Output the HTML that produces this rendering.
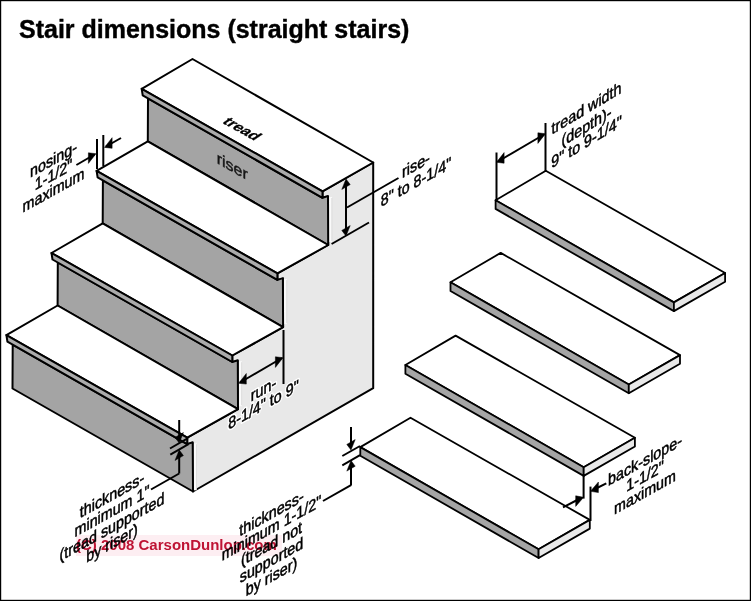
<!DOCTYPE html>
<html><head><meta charset="utf-8"><style>
html,body{margin:0;padding:0;background:#fff;}
body{width:751px;height:601px;overflow:hidden;position:relative;}
svg{position:absolute;left:0;top:0;}
text{font-family:"Liberation Sans",sans-serif;}
</style></head><body>
<svg width="751" height="601" viewBox="0 0 751 601">
<rect x="0.6" y="0.6" width="749.8" height="599.8" fill="#fff" stroke="#000" stroke-width="1.2"/>
<text x="19" y="38" font-size="25" font-weight="bold" fill="#000" stroke="#000" stroke-width="0.4">Stair dimensions (straight stairs)</text>
<polygon points="373.2,162.5 373.2,388.2 193.0,491.5 192.7,443.3 187.2,444.1 187.2,437.6 238.0,409.2 237.8,361.2 232.3,362.0 232.3,355.5 283.1,327.1 282.9,279.1 277.4,279.9 277.4,273.4 328.2,245.0 328.0,197.0 322.5,197.8 322.5,191.3" fill="#e8e8e8" stroke="#000" stroke-width="2.0" stroke-linejoin="round" />
<rect x="328.8" y="197.0" width="3.2" height="45.0" fill="#fafafa"/>
<line x1="331.8" y1="198.0" x2="331.8" y2="241.0" stroke="#d2d2d2" stroke-width="0.7" stroke-linecap="butt"/>
<rect x="283.7" y="279.1" width="3.2" height="45.0" fill="#fafafa"/>
<line x1="286.7" y1="280.1" x2="286.7" y2="323.1" stroke="#d2d2d2" stroke-width="0.7" stroke-linecap="butt"/>
<rect x="238.6" y="361.2" width="3.2" height="45.0" fill="#fafafa"/>
<line x1="241.6" y1="362.2" x2="241.6" y2="405.2" stroke="#d2d2d2" stroke-width="0.7" stroke-linecap="butt"/>
<rect x="193.5" y="443.3" width="3.2" height="47.0" fill="#fafafa"/>
<line x1="196.5" y1="444.3" x2="196.5" y2="489.3" stroke="#d2d2d2" stroke-width="0.7" stroke-linecap="butt"/>
<polygon points="192.5,59.0 141.7,88.8 322.5,191.3 373.2,162.5" fill="#fff" stroke="#000" stroke-width="2.0" stroke-linejoin="round" />
<polygon points="148.0,98.3 322.5,197.8 328.0,196.0 328.2,245.0 147.8,141.3" fill="#a4a4a4" stroke="#000" stroke-width="2.0" stroke-linejoin="round" />
<polygon points="141.7,88.8 322.5,191.3 322.5,197.8 142.7,95.3" fill="#ababab" stroke="#000" stroke-width="2.0" stroke-linejoin="round" />
<polygon points="147.8,141.3 96.6,170.9 277.4,273.4 328.2,245.0" fill="#fff" stroke="#000" stroke-width="2.0" stroke-linejoin="round" />
<polygon points="102.9,180.4 277.4,279.9 282.9,278.1 283.1,327.1 102.7,223.4" fill="#a4a4a4" stroke="#000" stroke-width="2.0" stroke-linejoin="round" />
<polygon points="96.6,170.9 277.4,273.4 277.4,279.9 97.6,177.4" fill="#ababab" stroke="#000" stroke-width="2.0" stroke-linejoin="round" />
<polygon points="102.7,223.4 51.5,253.0 232.3,355.5 283.1,327.1" fill="#fff" stroke="#000" stroke-width="2.0" stroke-linejoin="round" />
<polygon points="57.8,262.5 232.3,362.0 237.8,360.2 238.0,409.2 57.6,305.5" fill="#a4a4a4" stroke="#000" stroke-width="2.0" stroke-linejoin="round" />
<polygon points="51.5,253.0 232.3,355.5 232.3,362.0 52.5,259.5" fill="#ababab" stroke="#000" stroke-width="2.0" stroke-linejoin="round" />
<polygon points="57.6,305.5 6.4,335.1 187.2,437.6 238.0,409.2" fill="#fff" stroke="#000" stroke-width="2.0" stroke-linejoin="round" />
<polygon points="12.7,344.6 187.2,444.1 192.7,442.3 193.0,491.5 12.5,388.5" fill="#a4a4a4" stroke="#000" stroke-width="2.0" stroke-linejoin="round" />
<polygon points="6.4,335.1 187.2,437.6 187.2,444.1 7.4,341.6" fill="#ababab" stroke="#000" stroke-width="2.0" stroke-linejoin="round" />
<polygon points="545.8,170.8 495.6,200.2 673.9,302.4 725.1,273.0" fill="#fff" stroke="#000" stroke-width="1.8" stroke-linejoin="round" />
<polygon points="495.6,200.2 673.9,302.4 673.9,311.1 495.6,208.9" fill="#a5a5a5" stroke="#000" stroke-width="1.8" stroke-linejoin="round" />
<polygon points="673.9,302.4 725.1,273.0 725.1,281.7 673.9,311.1" fill="#e9e9e9" stroke="#000" stroke-width="1.8" stroke-linejoin="round" />
<polygon points="500.7,252.9 450.5,282.3 628.8,384.5 680.0,355.1" fill="#fff" stroke="#000" stroke-width="1.8" stroke-linejoin="round" />
<polygon points="450.5,282.3 628.8,384.5 628.8,393.2 450.5,291.0" fill="#a5a5a5" stroke="#000" stroke-width="1.8" stroke-linejoin="round" />
<polygon points="628.8,384.5 680.0,355.1 680.0,363.8 628.8,393.2" fill="#e9e9e9" stroke="#000" stroke-width="1.8" stroke-linejoin="round" />
<polygon points="455.6,335.6 405.4,365.0 583.7,467.2 634.9,437.8" fill="#fff" stroke="#000" stroke-width="1.8" stroke-linejoin="round" />
<polygon points="405.4,365.0 583.7,467.2 583.7,475.9 405.4,373.7" fill="#a5a5a5" stroke="#000" stroke-width="1.8" stroke-linejoin="round" />
<polygon points="583.7,467.2 634.9,437.8 634.9,446.5 583.7,475.9" fill="#e9e9e9" stroke="#000" stroke-width="1.8" stroke-linejoin="round" />
<polygon points="410.5,417.7 360.3,447.1 538.6,549.3 589.8,519.9" fill="#fff" stroke="#000" stroke-width="1.8" stroke-linejoin="round" />
<polygon points="360.3,447.1 538.6,549.3 538.6,558.0 360.3,455.8" fill="#a5a5a5" stroke="#000" stroke-width="1.8" stroke-linejoin="round" />
<polygon points="538.6,549.3 589.8,519.9 589.8,528.6 538.6,558.0" fill="#e9e9e9" stroke="#000" stroke-width="1.8" stroke-linejoin="round" />
<line x1="97.0" y1="139.0" x2="97.0" y2="169.0" stroke="#000" stroke-width="2.0" stroke-linecap="butt"/>
<line x1="103.3" y1="135.0" x2="103.3" y2="166.0" stroke="#000" stroke-width="2.0" stroke-linecap="butt"/>
<line x1="76.4" y1="165.0" x2="94.5" y2="154.5" stroke="#000" stroke-width="2.0" stroke-linecap="butt"/><polygon points="96.0,153.7 88.4,163.4 88.4,152.8" fill="#000" stroke="#000" stroke-width="0.5" stroke-linejoin="miter"/>
<line x1="121.0" y1="138.0" x2="106.0" y2="146.5" stroke="#000" stroke-width="2.0" stroke-linecap="butt"/><polygon points="104.5,147.4 112.1,148.3 112.1,137.7" fill="#000" stroke="#000" stroke-width="0.5" stroke-linejoin="miter"/>
<line x1="346.0" y1="181.0" x2="346.0" y2="234.0" stroke="#000" stroke-width="2.0" stroke-linecap="butt"/><polygon points="346.0,179.0 350.2,184.6 341.8,189.4" fill="#000" stroke="#000" stroke-width="0.5" stroke-linejoin="miter"/><polygon points="346.0,236.0 350.2,225.6 341.8,230.4" fill="#000" stroke="#000" stroke-width="0.5" stroke-linejoin="miter"/>
<line x1="331.6" y1="244.0" x2="369.0" y2="222.5" stroke="#000" stroke-width="2.0" stroke-linecap="butt"/>
<line x1="347.0" y1="207.5" x2="398.5" y2="178.0" stroke="#000" stroke-width="2.0" stroke-linecap="butt"/>
<line x1="283.5" y1="330.0" x2="283.5" y2="384.0" stroke="#000" stroke-width="2.0" stroke-linecap="butt"/>
<line x1="240.0" y1="382.5" x2="282.0" y2="358.0" stroke="#000" stroke-width="2.0" stroke-linecap="butt"/><polygon points="238.7,383.2 246.3,384.1 246.3,373.5" fill="#000" stroke="#000" stroke-width="0.5" stroke-linejoin="miter"/><polygon points="283.0,357.7 275.4,367.4 275.4,356.8" fill="#000" stroke="#000" stroke-width="0.5" stroke-linejoin="miter"/>
<line x1="179.2" y1="420.0" x2="179.2" y2="440.0" stroke="#000" stroke-width="2.0" stroke-linecap="butt"/><polygon points="179.2,443.0 183.4,432.6 175.0,437.4" fill="#000" stroke="#000" stroke-width="0.5" stroke-linejoin="miter"/>
<line x1="170.0" y1="448.5" x2="188.0" y2="438.2" stroke="#000" stroke-width="2.0" stroke-linecap="butt"/>
<line x1="170.3" y1="454.6" x2="188.5" y2="444.2" stroke="#000" stroke-width="2.0" stroke-linecap="butt"/>
<line x1="179.2" y1="452.0" x2="179.2" y2="473.5" stroke="#000" stroke-width="2.0" stroke-linecap="butt"/><polygon points="179.2,450.0 183.4,455.6 175.0,460.4" fill="#000" stroke="#000" stroke-width="0.5" stroke-linejoin="miter"/>
<line x1="179.2" y1="473.5" x2="151.0" y2="489.5" stroke="#000" stroke-width="2.0" stroke-linecap="butt"/>
<line x1="496.5" y1="152.5" x2="496.5" y2="200.0" stroke="#000" stroke-width="2.0" stroke-linecap="butt"/>
<line x1="545.5" y1="123.0" x2="545.5" y2="171.0" stroke="#000" stroke-width="2.0" stroke-linecap="butt"/>
<line x1="498.0" y1="161.5" x2="544.0" y2="134.5" stroke="#000" stroke-width="2.0" stroke-linecap="butt"/><polygon points="496.5,162.3 504.1,163.2 504.1,152.6" fill="#000" stroke="#000" stroke-width="0.5" stroke-linejoin="miter"/><polygon points="545.5,133.7 537.9,143.4 537.9,132.8" fill="#000" stroke="#000" stroke-width="0.5" stroke-linejoin="miter"/>
<line x1="351.0" y1="427.0" x2="351.0" y2="447.0" stroke="#000" stroke-width="2.0" stroke-linecap="butt"/><polygon points="351.0,450.0 355.2,439.6 346.8,444.4" fill="#000" stroke="#000" stroke-width="0.5" stroke-linejoin="miter"/>
<line x1="342.3" y1="456.0" x2="360.0" y2="446.0" stroke="#000" stroke-width="2.0" stroke-linecap="butt"/>
<line x1="342.3" y1="465.3" x2="360.0" y2="455.2" stroke="#000" stroke-width="2.0" stroke-linecap="butt"/>
<line x1="351.0" y1="463.0" x2="351.0" y2="485.5" stroke="#000" stroke-width="2.0" stroke-linecap="butt"/><polygon points="351.0,460.6 355.2,466.2 346.8,471.1" fill="#000" stroke="#000" stroke-width="0.5" stroke-linejoin="miter"/>
<polyline points="351.0,485.2 323.0,501.0" fill="none" stroke="#000" stroke-width="2.0" stroke-linejoin="miter"/>
<line x1="583.6" y1="475.3" x2="583.6" y2="498.6" stroke="#000" stroke-width="2.0" stroke-linecap="butt"/>
<line x1="590.5" y1="486.6" x2="590.5" y2="521.0" stroke="#000" stroke-width="2.0" stroke-linecap="butt"/>
<line x1="563.0" y1="507.3" x2="581.0" y2="498.0" stroke="#000" stroke-width="2.0" stroke-linecap="butt"/><polygon points="583.6,497.3 575.7,506.4 575.7,495.8" fill="#000" stroke="#000" stroke-width="0.5" stroke-linejoin="miter"/>
<line x1="606.3" y1="483.3" x2="593.0" y2="490.0" stroke="#000" stroke-width="2.0" stroke-linecap="butt"/><polygon points="590.5,491.3 598.4,492.6 598.4,482.0" fill="#000" stroke="#000" stroke-width="0.5" stroke-linejoin="miter"/>
<text transform="matrix(0.866 -0.48 0.0 1 53.5 164.8)" text-anchor="middle" font-size="16.5" font-weight="normal" fill="#000" stroke="#000" stroke-width="0.5">nosing-</text>
<text transform="matrix(0.866 -0.48 0.0 1 53.5 180.2)" text-anchor="middle" font-size="16.5" font-weight="normal" fill="#000" stroke="#000" stroke-width="0.5">1-1/2&quot;</text>
<text transform="matrix(0.866 -0.48 0.0 1 53.5 195.6)" text-anchor="middle" font-size="16.5" font-weight="normal" fill="#000" stroke="#000" stroke-width="0.5">maximum</text>
<text transform="matrix(0.866 -0.48 0.0 1 416.0 170.5)" text-anchor="middle" font-size="16.5" font-weight="normal" fill="#fff" stroke="#fff" stroke-width="3.5" stroke-linejoin="round">rise-</text>
<text transform="matrix(0.866 -0.48 0.0 1 416.0 170.5)" text-anchor="middle" font-size="16.5" font-weight="normal" fill="#000" stroke="#000" stroke-width="0.5">rise-</text>
<text transform="matrix(0.866 -0.48 0.0 1 416.0 187.5)" text-anchor="middle" font-size="16.5" font-weight="normal" fill="#fff" stroke="#fff" stroke-width="3.5" stroke-linejoin="round">8&quot; to 8-1/4&quot;</text>
<text transform="matrix(0.866 -0.48 0.0 1 416.0 187.5)" text-anchor="middle" font-size="16.5" font-weight="normal" fill="#000" stroke="#000" stroke-width="0.5">8&quot; to 8-1/4&quot;</text>
<text transform="matrix(0.866 -0.48 0.0 1 263.5 394.6)" text-anchor="middle" font-size="16.5" font-weight="normal" fill="#fff" stroke="#fff" stroke-width="3.5" stroke-linejoin="round">run-</text>
<text transform="matrix(0.866 -0.48 0.0 1 263.5 394.6)" text-anchor="middle" font-size="16.5" font-weight="normal" fill="#000" stroke="#000" stroke-width="0.5">run-</text>
<text transform="matrix(0.866 -0.48 0.0 1 263.5 410.1)" text-anchor="middle" font-size="16.5" font-weight="normal" fill="#fff" stroke="#fff" stroke-width="3.5" stroke-linejoin="round">8-1/4&quot; to 9&quot;</text>
<text transform="matrix(0.866 -0.48 0.0 1 263.5 410.1)" text-anchor="middle" font-size="16.5" font-weight="normal" fill="#000" stroke="#000" stroke-width="0.5">8-1/4&quot; to 9&quot;</text>
<text transform="matrix(0.866 -0.52 0.0 1 586.5 113.8)" text-anchor="middle" font-size="16.5" font-weight="normal" fill="#000" stroke="#000" stroke-width="0.5">tread width</text>
<text transform="matrix(0.866 -0.52 0.0 1 586.5 131.8)" text-anchor="middle" font-size="16.5" font-weight="normal" fill="#000" stroke="#000" stroke-width="0.5">(depth)-</text>
<text transform="matrix(0.866 -0.52 0.0 1 586.5 147.3)" text-anchor="middle" font-size="16.5" font-weight="normal" fill="#000" stroke="#000" stroke-width="0.5">9&quot; to 9-1/4&quot;</text>
<text transform="matrix(0.866 -0.48 0.0 1 112.0 500.5)" text-anchor="middle" font-size="16.5" font-weight="normal" fill="#000" stroke="#000" stroke-width="0.5">thickness-</text>
<text transform="matrix(0.866 -0.48 0.0 1 112.0 516.5)" text-anchor="middle" font-size="16.5" font-weight="normal" fill="#000" stroke="#000" stroke-width="0.5">minimum 1&quot;</text>
<text transform="matrix(0.866 -0.48 0.0 1 112.0 532.5)" text-anchor="middle" font-size="16.5" font-weight="normal" fill="#000" stroke="#000" stroke-width="0.5">(tread supported</text>
<text transform="matrix(0.866 -0.48 0.0 1 112.0 548.5)" text-anchor="middle" font-size="16.5" font-weight="normal" fill="#000" stroke="#000" stroke-width="0.5">by riser)</text>
<text transform="matrix(0.866 -0.48 0.0 1 271.5 518.7)" text-anchor="middle" font-size="16.5" font-weight="normal" fill="#000" stroke="#000" stroke-width="0.5">thickness-</text>
<text transform="matrix(0.866 -0.48 0.0 1 271.5 533.5)" text-anchor="middle" font-size="16.5" font-weight="normal" fill="#000" stroke="#000" stroke-width="0.5">minimum 1-1/2&quot;</text>
<text transform="matrix(0.866 -0.48 0.0 1 271.5 549.3)" text-anchor="middle" font-size="16.5" font-weight="normal" fill="#000" stroke="#000" stroke-width="0.5">(tread not</text>
<text transform="matrix(0.866 -0.48 0.0 1 271.5 565.6)" text-anchor="middle" font-size="16.5" font-weight="normal" fill="#000" stroke="#000" stroke-width="0.5">supported</text>
<text transform="matrix(0.866 -0.48 0.0 1 271.5 581.9)" text-anchor="middle" font-size="16.5" font-weight="normal" fill="#000" stroke="#000" stroke-width="0.5">by riser)</text>
<text transform="matrix(0.866 -0.48 0.0 1 645.0 465.6)" text-anchor="middle" font-size="16.5" font-weight="normal" fill="#000" stroke="#000" stroke-width="0.5">back-slope-</text>
<text transform="matrix(0.866 -0.48 0.0 1 645.0 481.6)" text-anchor="middle" font-size="16.5" font-weight="normal" fill="#000" stroke="#000" stroke-width="0.5">1-1/2&quot;</text>
<text transform="matrix(0.866 -0.48 0.0 1 645.0 497.6)" text-anchor="middle" font-size="16.5" font-weight="normal" fill="#000" stroke="#000" stroke-width="0.5">maximum</text>
<text transform="matrix(1 0.56 0 1 232.2 171.7)" text-anchor="middle" font-size="16" fill="#151515" stroke="#151515" stroke-width="0.45">riser</text>
<text transform="matrix(0.9 0.5 -0.84 0.56 221.5 122.5)" font-size="15" font-weight="bold" fill="#000" stroke="#000" stroke-width="0.3">tread</text>
<rect x="76" y="535" width="206" height="21" fill="#fdeef2" style="mix-blend-mode:multiply"/>
<text x="76" y="550" font-size="15" font-weight="bold" fill="#c01436" style="mix-blend-mode:multiply">(C) 2008 CarsonDunlop.com</text>
</svg>
</body></html>
